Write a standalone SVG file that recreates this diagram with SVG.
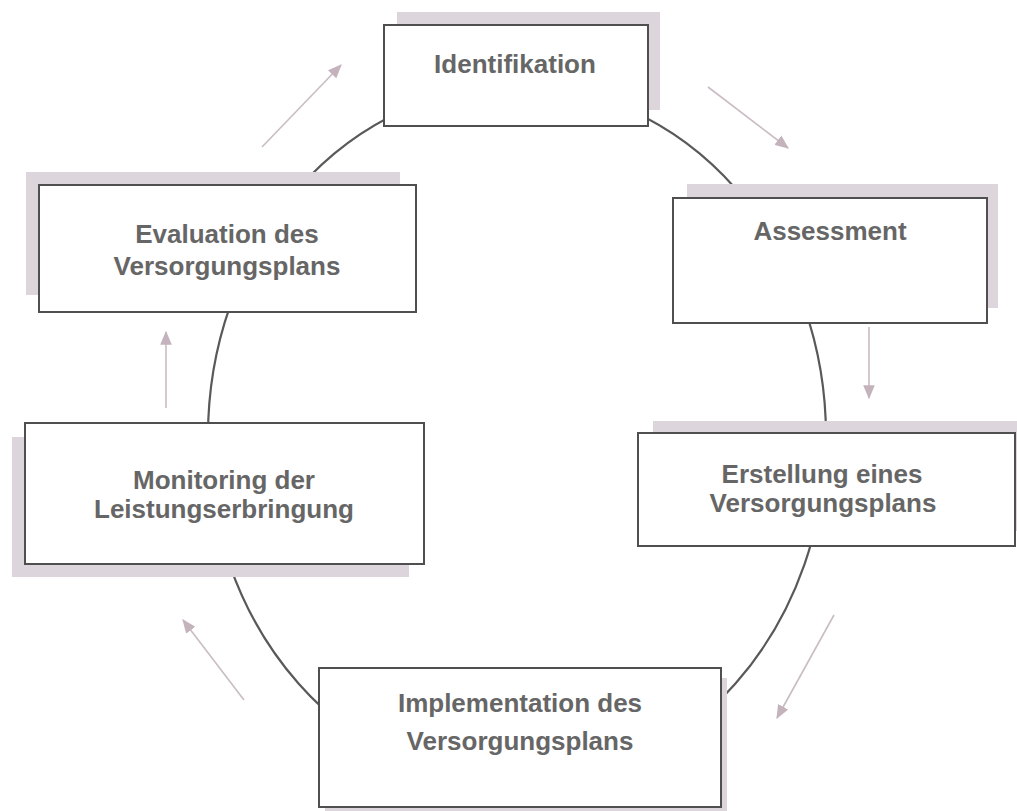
<svg xmlns="http://www.w3.org/2000/svg" width="1017" height="811" viewBox="0 0 1017 811">
<style>
.shadow{fill:#dcd5dc;stroke:none}
.box{fill:#ffffff;stroke:#4f4f4f;stroke-width:2}
.label{font-family:"Liberation Sans",Arial,sans-serif;font-weight:bold;font-size:26px;fill:#666666;text-anchor:middle}
.cycle{fill:none;stroke:#595959;stroke-width:2.2}
.arrow{stroke:#c9bcc4;stroke-width:1.6;marker-end:url(#ah)}
</style>
<defs>
<marker id="ah" viewBox="0 0 12 10" refX="11" refY="5" markerWidth="14" markerHeight="12" markerUnits="userSpaceOnUse" orient="auto">
<path d="M0,0 L12,5 L0,10 Z" fill="#c4b3bd"/>
</marker>
</defs>
<rect width="1017" height="811" fill="#ffffff"/>
<g id="connectors">
<ellipse class="cycle" cx="517" cy="436" rx="309" ry="350"/>
<line class="arrow" x1="262" y1="147" x2="341" y2="65"/>
<line class="arrow" x1="708" y1="87" x2="788" y2="148"/>
<line class="arrow" x1="869" y1="327" x2="869" y2="398"/>
<line class="arrow" x1="834" y1="615" x2="777" y2="718"/>
<line class="arrow" x1="244" y1="700" x2="183" y2="620"/>
<line class="arrow" x1="166" y1="408" x2="166" y2="332"/>
</g>
<g id="identifikation">
<rect class="shadow" x="397" y="12" width="263" height="98"/>
<rect class="box" x="384" y="25" width="264" height="101"/>
<text class="label" x="515" y="73">Identifikation</text>
</g>
<g id="assessment">
<rect class="shadow" x="687" y="184" width="311" height="124"/>
<rect class="box" x="673" y="198" width="314" height="125"/>
<text class="label" x="830" y="240">Assessment</text>
</g>
<g id="erstellung">
<rect class="shadow" x="653" y="421" width="370" height="110"/>
<rect class="box" x="638" y="433" width="377" height="113"/>
<text class="label" x="822" y="483">Erstellung eines</text>
<text class="label" x="823" y="512">Versorgungsplans</text>
</g>
<g id="implementation">
<rect class="shadow" x="325" y="678" width="402" height="140"/>
<rect class="box" x="319" y="668" width="402" height="139"/>
<text class="label" x="520" y="712">Implementation des</text>
<text class="label" x="520" y="750">Versorgungsplans</text>
</g>
<g id="monitoring">
<rect class="shadow" x="12" y="437" width="397" height="140"/>
<rect class="box" x="25" y="423" width="399" height="141"/>
<text class="label" x="224" y="489">Monitoring der</text>
<text class="label" x="224" y="518">Leistungserbringung</text>
</g>
<g id="evaluation">
<rect class="shadow" x="26" y="172" width="374" height="123"/>
<rect class="box" x="39" y="185" width="377" height="127"/>
<text class="label" x="227" y="243">Evaluation des</text>
<text class="label" x="227" y="275">Versorgungsplans</text>
</g>
</svg>
